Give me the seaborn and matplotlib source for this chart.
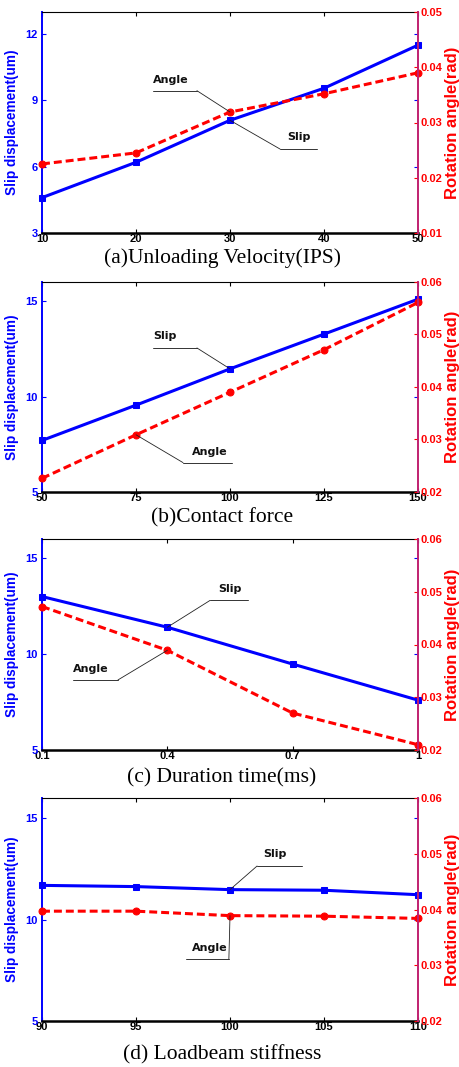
import matplotlib
matplotlib.use("Agg")
import matplotlib.pyplot as plt
import seaborn as sns
import numpy as np
import pandas as pd

sns.set_theme(style="white")
plt.rcParams['font.family'] = ['Liberation Sans', 'DejaVu Sans']

# ---------------- data ----------------
vel_x = [10, 20, 30, 40, 50]
vel_slip = [4.6, 6.2, 8.1, 9.55, 11.5]
vel_angle = [0.0225, 0.0245, 0.0319, 0.0352, 0.039]

force_x = [50, 75, 100, 125, 150]
force_slip = [7.7, 9.55, 11.45, 13.27, 15.1]
force_angle = [0.0226, 0.0309, 0.039, 0.0471, 0.0561]

dur_x = [0.1, 0.4, 0.7, 1.0]
dur_slip = [13.0, 11.4, 9.48, 7.6]
dur_angle = [0.0472, 0.0389, 0.027, 0.021]

stiff_x = [90, 95, 100, 105, 110]
stiff_slip = [11.69, 11.63, 11.48, 11.45, 11.23]
stiff_angle = [0.0397, 0.0397, 0.0389, 0.0388, 0.0384]

titles = ["(a)Unloading Velocity(IPS)", "(b)Contact force",
          "(c) Duration time(ms)", "(d) Loadbeam stiffness"]
x_ticks = [[10, 20, 30, 40, 50], [50, 75, 100, 125, 150],
           [0.1, 0.4, 0.7, 1.0], [90, 95, 100, 105, 110]]
x_ticklabels = [["10", "20", "30", "40", "50"], ["50", "75", "100", "125", "150"],
                ["0.1", "0.4", "0.7", "1"], ["90", "95", "100", "105", "110"]]
left_ticks = [[3, 6, 9, 12], [5, 10, 15], [5, 10, 15], [5, 10, 15]]
left_lims = [(3, 13), (5, 16), (5, 16), (5, 16)]
right_ticks = [[0.01, 0.02, 0.03, 0.04, 0.05], [0.02, 0.03, 0.04, 0.05, 0.06],
               [0.02, 0.03, 0.04, 0.05, 0.06], [0.02, 0.03, 0.04, 0.05, 0.06]]
right_lims = [(0.01, 0.05), (0.02, 0.06), (0.02, 0.06), (0.02, 0.06)]

xs = [vel_x, force_x, dur_x, stiff_x]
slips = [vel_slip, force_slip, dur_slip, stiff_slip]
angles = [vel_angle, force_angle, dur_angle, stiff_angle]

# layout (pixels) ---------------------------------------------------------
W, H = 459, 1067
ax_left, ax_right = 42, 418
panel_tb = [(12, 233), (282, 492), (539, 750), (798, 1021)]
title_y = [258, 518, 778, 1055]

# annotation layout: (label, series, x index, text_x, text_y, ul_x0, ul_x1, ul_y, elbow_x) in axes fraction
annots = [
    [("Angle", "angle", 2, 0.295, 0.692, 0.295, 0.412, 0.644, 0.412),
     ("Slip", "slip", 2, 0.652, 0.434, 0.633, 0.731, 0.380, 0.633)],
    [("Slip", "slip", 2, 0.295, 0.744, 0.295, 0.412, 0.686, 0.412),
     ("Angle", "angle", 1, 0.399, 0.192, 0.375, 0.505, 0.140, 0.375)],
    [("Slip", "slip", 1, 0.468, 0.763, 0.447, 0.548, 0.709, 0.447),
     ("Angle", "angle", 1, 0.082, 0.384, 0.082, 0.202, 0.332, 0.202)],
    [("Slip", "slip", 2, 0.588, 0.749, 0.572, 0.691, 0.695, 0.572),
     ("Angle", "angle", 2, 0.399, 0.327, 0.383, 0.497, 0.278, 0.497)],
]

fig = plt.figure(figsize=(W / 100, H / 100), dpi=100)
fig.patch.set_facecolor("white")

tick_font = dict(fontsize=8, fontweight="bold")
for i in range(4):
    top, bot = panel_tb[i]
    rect = [ax_left / W, (H - bot) / H, (ax_right - ax_left) / W, (bot - top) / H]
    ax = fig.add_axes(rect)
    ax2 = ax.twinx()
    ax.set_facecolor("white")

    df = pd.DataFrame({"x": xs[i], "slip": slips[i], "angle": angles[i]})
    sns.lineplot(data=df, x="x", y="slip", ax=ax, color="#0000ff", marker="s",
                 markersize=5, markeredgecolor="#0000ff", linewidth=2.2, clip_on=False)
    sns.lineplot(data=df, x="x", y="angle", ax=ax2, color="#ff0000", marker="o",
                 markersize=5, markeredgecolor="#ff0000", linewidth=2.2,
                 linestyle=(0, (2.6, 1.3)), clip_on=False)

    ax.set_xlim(xs[i][0], xs[i][-1])
    ax.set_ylim(*left_lims[i])
    ax2.set_ylim(*right_lims[i])
    ax.set_xticks(x_ticks[i])
    ax.set_xticklabels(x_ticklabels[i], **tick_font)
    ax.set_yticks(left_ticks[i])
    ax.set_yticklabels([str(v) for v in left_ticks[i]], **tick_font)
    ax2.set_yticks(right_ticks[i])
    ax2.set_yticklabels([f"{v:.2f}" for v in right_ticks[i]], **tick_font)

    ax.set_xlabel("")
    ax.set_ylabel("Slip displacement(um)", color="#0000ff", fontsize=9.8, fontweight="bold")
    ax.yaxis.set_label_coords(-(ax_left - 19) / (ax_right - ax_left), 0.5)
    ax2.set_ylabel("Rotation angle(rad)", color="#ff0000", fontsize=12, fontweight="bold")
    ax2.yaxis.set_label_coords((445 - ax_left) / (ax_right - ax_left), 0.5)

    # spines
    for s in ["left", "right", "top", "bottom"]:
        ax2.spines[s].set_visible(False)
    ax.spines["right"].set_visible(False)
    ax.spines["left"].set_color("#0000ff")
    ax.spines["left"].set_linewidth(1.4)
    ax.spines["bottom"].set_color("black")
    ax.spines["bottom"].set_linewidth(1.8)
    ax.spines["top"].set_color("black")
    ax.spines["top"].set_linewidth(0.8)
    ax2.spines["right"].set_visible(True)
    ax2.spines["right"].set_color("#c02070")
    ax2.spines["right"].set_linewidth(1.4)

    ax.tick_params(axis="x", direction="in", top=True, bottom=True, length=3,
                   width=0.8, colors="black", pad=1)
    ax.tick_params(axis="y", direction="in", left=True, right=True, length=3,
                   width=0.8, colors="#0000ff", pad=3)
    ax2.tick_params(axis="y", direction="in", right=True, length=3, width=0.8,
                    colors="#ff0000", pad=2)

    # annotations
    for (lab, ser, idx, tx, ty, u0, u1, uy, ex) in annots[i]:
        target_ax = ax if ser == "slip" else ax2
        yv = slips[i][idx] if ser == "slip" else angles[i][idx]
        ax.text(tx, ty, lab, transform=ax.transAxes, fontsize=8, fontweight="bold",
                family=["DejaVu Sans"], ha="left", va="center", color="#111111")
        ax.plot([u0, u1], [uy, uy], transform=ax.transAxes, color="#333333",
                lw=0.7, clip_on=False)
        target_ax.annotate("", xy=(xs[i][idx], yv), xycoords="data",
                           xytext=(ex, uy), textcoords=ax.transAxes,
                           arrowprops=dict(arrowstyle="-", color="#222222", lw=0.6,
                                           shrinkA=0, shrinkB=0))

    fig.text(222 / W, (H - title_y[i]) / H, titles[i], ha="center", va="center",
             fontsize=15.5, family=["Liberation Serif", "DejaVu Serif"], color="black")

fig.savefig("out.png", dpi=100, facecolor="white")
